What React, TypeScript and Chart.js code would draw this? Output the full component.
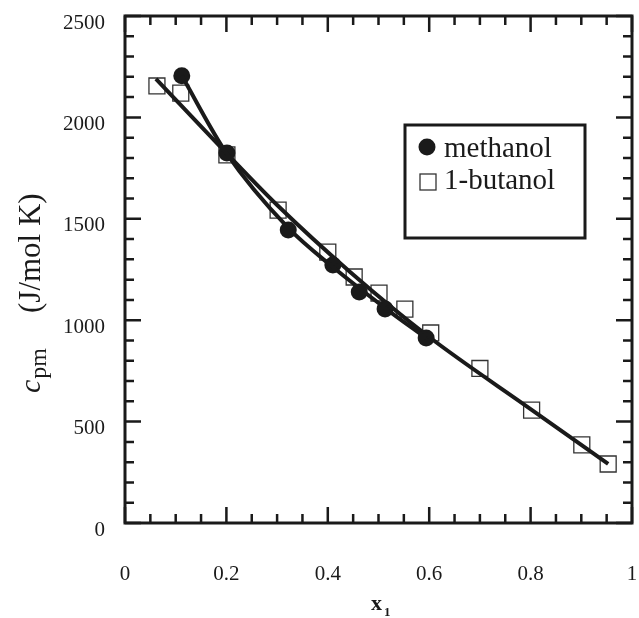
import React, { useEffect, useRef } from 'react';
import { Chart, registerables } from 'chart.js';

Chart.register(...registerables);

// Measured data (x1, c_pm in J/mol K)
const methanolX = [0.112, 0.201, 0.322, 0.41, 0.462, 0.513, 0.594];
const methanolY = [2205, 1824, 1445, 1272, 1139, 1055, 912];
const butanolX = [0.063, 0.11, 0.201, 0.302, 0.4, 0.452, 0.501, 0.552, 0.603, 0.7, 0.802, 0.901, 0.953];
const butanolY = [2155, 2120, 1815, 1543, 1336, 1213, 1134, 1055, 937, 762, 557, 385, 291];

// Fitted curves
const methanolFitX = [0.112, 0.2, 0.322, 0.41, 0.513, 0.594];
const methanolFitY = [2205, 1824, 1455, 1262, 1060, 912];
const butanolFitX = [0.061, 0.2, 0.3, 0.444, 0.6, 0.8, 0.953];
const butanolFitY = [2190, 1824, 1568, 1238, 917, 562, 291];

const seriesLabels = ['methanol', '1-butanol'];
const xMin = 0, xMax = 1, xStep = 0.2, xMinor = 0.05;
const yMin = 0, yMax = 2500, yStep = 500, yMinor = 100;

const INK = '#1a1a1a';
const SERIF = '"Liberation Serif", "Times New Roman", serif';

const toPts = (xs: number[], ys: number[]) => xs.map((x, i) => ({ x, y: ys[i] }));
const fmt = (v: number) => String(Math.round(v * 100) / 100);

const framePlugin = {
  id: 'frameTicks',
  afterDatasetsDraw(chart: any) {
    const { ctx, chartArea: a, scales } = chart;
    const xs = scales.x, ys = scales.y;
    ctx.save();
    ctx.strokeStyle = INK;
    ctx.lineWidth = 3;
    ctx.strokeRect(a.left, a.top, a.right - a.left, a.bottom - a.top);
    ctx.lineWidth = 2.5;
    ctx.beginPath();
    const nx = Math.round((xMax - xMin) / xMinor);
    for (let i = 0; i <= nx; i++) {
      const v = xMin + i * xMinor;
      const px = xs.getPixelForValue(v);
      const major = i % Math.round(xStep / xMinor) === 0;
      const L = major ? 16 : 9;
      ctx.moveTo(px, a.bottom); ctx.lineTo(px, a.bottom - L);
      ctx.moveTo(px, a.top); ctx.lineTo(px, a.top + L);
    }
    const ny = Math.round((yMax - yMin) / yMinor);
    for (let i = 0; i <= ny; i++) {
      const v = yMin + i * yMinor;
      const py = ys.getPixelForValue(v);
      const major = i % Math.round(yStep / yMinor) === 0;
      const L = major ? 16 : 9;
      ctx.moveTo(a.left, py); ctx.lineTo(a.left + L, py);
      ctx.moveTo(a.right, py); ctx.lineTo(a.right - L, py);
    }
    ctx.stroke();
    ctx.restore();
  },
  afterDraw(chart: any) {
    const { ctx } = chart;
    ctx.save();
    ctx.fillStyle = INK;
    ctx.strokeStyle = INK;
    // Legend box
    ctx.lineWidth = 3;
    ctx.strokeRect(405, 125, 180, 113);
    ctx.font = `29px ${SERIF}`;
    ctx.textBaseline = 'alphabetic';
    ctx.textAlign = 'left';
    const ds = chart.data.datasets;
    ctx.beginPath();
    ctx.arc(427, 147, 8.5, 0, Math.PI * 2);
    ctx.fillStyle = ds[2].backgroundColor;
    ctx.fill();
    ctx.fillStyle = INK;
    ctx.fillText(ds[2].label, 444, 157);
    ctx.lineWidth = 1.3;
    ctx.strokeStyle = '#333';
    ctx.strokeRect(420, 174, 16, 16);
    ctx.fillText(ds[3].label, 444, 189);

    // Y title
    ctx.save();
    ctx.translate(40, 393);
    ctx.rotate(-Math.PI / 2);
    ctx.fillStyle = INK;
    ctx.font = `italic 30px ${SERIF}`;
    ctx.fillText('c', 0, 0);
    const w = ctx.measureText('c').width + 1;
    ctx.font = `24px ${SERIF}`;
    ctx.fillText('pm', w, 6);
    ctx.font = `31px ${SERIF}`;
    ctx.fillText('(J/mol K)', 80, 0);
    ctx.restore();

    // X title
    ctx.font = `bold 22px ${SERIF}`;
    ctx.fillText('x', 371, 610);
    ctx.font = `bold 13px ${SERIF}`;
    ctx.fillText('1', 384, 616);
    ctx.restore();
  },
};

export default function App() {
  const ref = useRef<HTMLCanvasElement | null>(null);
  useEffect(() => {
    if (!ref.current) return;
    const chart = new Chart(ref.current, {
      type: 'scatter',
      data: {
        datasets: [
          {
            label: 'methanol fit',
            data: toPts(methanolFitX, methanolFitY),
            showLine: true,
            borderColor: INK,
            borderWidth: 4,
            pointRadius: 0,
            cubicInterpolationMode: 'monotone',
            fill: false,
          },
          {
            label: '1-butanol fit',
            data: toPts(butanolFitX, butanolFitY),
            showLine: true,
            borderColor: INK,
            borderWidth: 4,
            pointRadius: 0,
            cubicInterpolationMode: 'monotone',
            fill: false,
          },
          {
            label: seriesLabels[0],
            data: toPts(methanolX, methanolY),
            showLine: false,
            pointStyle: 'circle',
            pointRadius: 8.5,
            backgroundColor: INK,
            borderColor: INK,
            borderWidth: 0,
          },
          {
            label: seriesLabels[1],
            data: toPts(butanolX, butanolY),
            showLine: false,
            pointStyle: 'rect',
            pointRadius: 11.3,
            backgroundColor: 'rgba(0,0,0,0)',
            borderColor: '#333',
            borderWidth: 1.3,
          },
        ],
      } as any,
      options: {
        responsive: false,
        animation: false,
        events: [],
        layout: { autoPadding: false, padding: { left: 0, right: 7, top: 16, bottom: 0 } },
        plugins: { legend: { display: false }, tooltip: { enabled: false } },
        scales: {
          x: {
            type: 'linear',
            min: xMin,
            max: xMax,
            border: { display: false },
            grid: { display: false, drawTicks: false },
            ticks: {
              stepSize: xStep,
              padding: 39,
              color: INK,
              maxRotation: 0,
              autoSkip: false,
              font: { family: SERIF, size: 21 },
              callback: (v: number) => fmt(v),
            },
            afterFit(s: any) {
              s.height = 95;
              s.paddingLeft = 0;
              s.paddingRight = 0;
            },
          },
          y: {
            type: 'linear',
            min: yMin,
            max: yMax,
            border: { display: false },
            grid: { display: false, drawTicks: false },
            ticks: {
              stepSize: yStep,
              padding: 20,
              labelOffset: 7,
              color: INK,
              font: { family: SERIF, size: 21 },
              callback: (v: number) => fmt(v),
            },
            afterFit(s: any) {
              s.width = 125;
              s.paddingTop = 0;
              s.paddingBottom = 0;
            },
          },
        },
      } as any,
      plugins: [framePlugin],
    });
    return () => chart.destroy();
  }, []);
  return (
    <div style={{ position: 'absolute', left: 0, top: 0, width: 639, height: 618, background: '#fff' }}>
      <canvas ref={ref} width={639} height={618} style={{ display: 'block' }} />
    </div>
  );
}
